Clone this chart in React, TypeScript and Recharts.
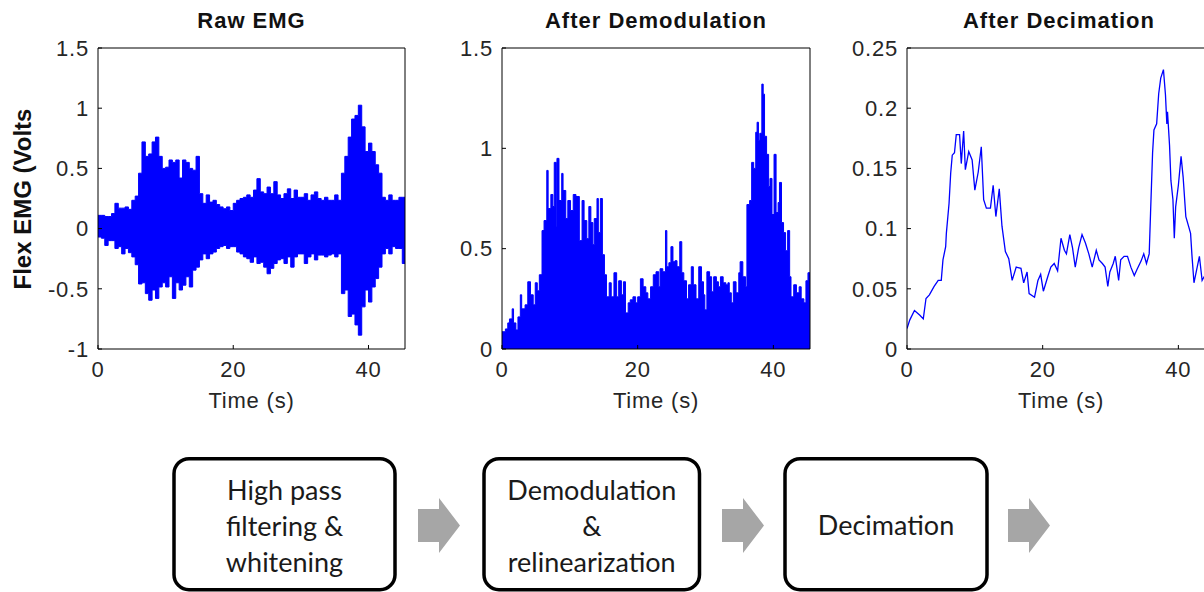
import React from "react";
import { ComposedChart, Area, Line, XAxis, YAxis } from "recharts";

// time axis (seconds) shared by the three panels
const timeTicks = [0, 20, 40];
const X_MAX = 45.4;

// Raw EMG: envelope of the signal, sampled every 0.5 s
const rawTime = [
  0, 0.5, 1, 1.5, 2, 2.5, 3, 3.5, 4, 4.5,
  5, 5.5, 6, 6.5, 7, 7.5, 8, 8.5, 9, 9.5,
  10, 10.5, 11, 11.5, 12, 12.5, 13, 13.5, 14, 14.5,
  15, 15.5, 16, 16.5, 17, 17.5, 18, 18.5, 19, 19.5,
  20, 20.5, 21, 21.5, 22, 22.5, 23, 23.5, 24, 24.5,
  25, 25.5, 26, 26.5, 27, 27.5, 28, 28.5, 29, 29.5,
  30, 30.5, 31, 31.5, 32, 32.5, 33, 33.5, 34, 34.5,
  35, 35.5, 36, 36.5, 37, 37.5, 38, 38.5, 39, 39.5,
  40, 40.5, 41, 41.5, 42, 42.5, 43, 43.5, 44, 44.5,
  45, 45.5,
];
const rawUpper = [
  0.11, 0.11, 0.1, 0.1, 0.125, 0.21, 0.17, 0.17, 0.18, 0.16,
  0.235, 0.27, 0.46, 0.72, 0.6, 0.62, 0.72, 0.76, 0.6, 0.5,
  0.51, 0.57, 0.55, 0.57, 0.42, 0.57, 0.55, 0.5, 0.485, 0.6,
  0.29, 0.21, 0.28, 0.22, 0.235, 0.2, 0.18, 0.165, 0.18, 0.15,
  0.21, 0.235, 0.25, 0.26, 0.28, 0.26, 0.32, 0.415, 0.305, 0.29,
  0.345, 0.29, 0.39, 0.28, 0.25, 0.29, 0.33, 0.25, 0.32, 0.26,
  0.26, 0.29, 0.235, 0.28, 0.305, 0.25, 0.235, 0.26, 0.235, 0.235,
  0.28, 0.235, 0.46, 0.6, 0.76, 0.91, 0.94, 1.025, 0.845, 0.64,
  0.71, 0.64, 0.53, 0.46, 0.26, 0.235, 0.28, 0.235, 0.235, 0.26,
  0.26, 0.26,
];
const rawLower = [
  -0.07, -0.08, -0.14, -0.1, -0.1, -0.165, -0.15, -0.21, -0.165, -0.2,
  -0.235, -0.3, -0.46, -0.45, -0.54, -0.595, -0.51, -0.58, -0.485, -0.45,
  -0.485, -0.4, -0.58, -0.45, -0.51, -0.47, -0.4, -0.485, -0.345, -0.32,
  -0.26, -0.21, -0.25, -0.21, -0.195, -0.165, -0.15, -0.14, -0.165, -0.15,
  -0.15, -0.195, -0.21, -0.235, -0.25, -0.28, -0.235, -0.29, -0.28, -0.32,
  -0.375, -0.33, -0.29, -0.26, -0.25, -0.29, -0.235, -0.32, -0.235, -0.21,
  -0.21, -0.29, -0.235, -0.21, -0.26, -0.22, -0.22, -0.235, -0.22, -0.21,
  -0.235, -0.21, -0.54, -0.51, -0.73, -0.71, -0.8, -0.885, -0.65, -0.51,
  -0.61, -0.485, -0.415, -0.32, -0.21, -0.165, -0.21, -0.15, -0.165, -0.165,
  -0.29, -0.29,
];
const rawTicks = [-1, -0.5, 0, 0.5, 1, 1.5];

// After demodulation: bar heights
const demodTime = [
  0, 0.5, 0.85, 1.1, 1.5, 1.7, 2.05, 2.35, 2.7, 2.9,
  3.4, 3.8, 4.2, 4.6, 4.9, 5.2, 5.5, 5.9, 6.2, 6.6,
  6.8, 7.2, 7.5, 7.7, 8.0, 8.1, 8.4, 8.8, 9.0, 9.4,
  9.7, 10.1, 10.5, 10.9, 11.4, 11.8, 12.1, 12.5, 12.8, 13.1,
  13.4, 13.6, 14.0, 14.2, 14.5, 14.8, 15.1, 15.4, 15.8, 16.1,
  16.5, 16.9, 17.2, 17.6, 17.9, 18.2, 18.6, 18.9, 19.3, 19.7,
  20.0, 20.4, 20.8, 21.2, 21.5, 21.9, 22.3, 22.7, 23.1, 23.3,
  23.7, 24.1, 24.3, 24.6, 24.9, 25.2, 25.5, 25.8, 26.2, 26.5,
  26.8, 27.2, 27.5, 27.9, 28.2, 28.6, 29.0, 29.4, 29.7, 29.9,
  30.2, 30.6, 30.9, 31.2, 31.6, 31.9, 32.2, 32.6, 33.0, 33.3,
  33.5, 33.8, 34.1, 34.5, 34.9, 35.1, 35.5, 35.9, 36.1, 36.5,
  36.8, 37.1, 37.4, 37.6, 37.8, 38.0, 38.3, 38.5, 38.7, 39.0,
  39.3, 39.5, 39.8, 40.1, 40.4, 40.7, 40.9, 41.2, 41.5, 41.8,
  42.1, 42.4, 42.6, 43.0, 43.4, 43.8, 44.1, 44.5, 44.8, 45.1,
  45.5,
];
const demodValue = [
  0.086, 0.1, 0.13, 0.15, 0.2, 0.13, 0.095, 0.16, 0.27, 0.2,
  0.22, 0.335, 0.27, 0.22, 0.33, 0.29, 0.37, 0.59, 0.64, 0.89,
  0.7, 0.77, 0.71, 0.93, 0.61, 0.95, 0.74, 0.875, 0.79, 0.65,
  0.74, 0.69, 0.77, 0.76, 0.54, 0.74, 0.64, 0.55, 0.71, 0.63,
  0.52, 0.65, 0.75, 0.58, 0.75, 0.47, 0.37, 0.26, 0.33, 0.26,
  0.38, 0.26, 0.34, 0.27, 0.335, 0.18, 0.23, 0.245, 0.26, 0.23,
  0.26, 0.35, 0.31, 0.28, 0.25, 0.31, 0.37, 0.385, 0.31, 0.4,
  0.385, 0.59, 0.41, 0.43, 0.51, 0.435, 0.44, 0.41, 0.535, 0.38,
  0.34, 0.25, 0.32, 0.41, 0.32, 0.25, 0.41, 0.335, 0.27, 0.195,
  0.385, 0.36, 0.285, 0.36, 0.335, 0.31, 0.36, 0.33, 0.32, 0.33,
  0.28, 0.23, 0.335, 0.28, 0.38, 0.435, 0.36, 0.31, 0.72, 0.74,
  0.93, 0.9, 1.08, 1.13, 1.04, 1.075, 1.32, 1.27, 1.06, 0.97,
  0.81, 0.85, 0.67, 0.97, 0.68, 0.73, 0.83, 0.63, 0.58, 0.49,
  0.59, 0.36, 0.26, 0.32, 0.28, 0.31, 0.25, 0.23, 0.34, 0.38,
  0.38,
];
const demodTicks = [0, 0.5, 1, 1.5];

// After decimation
const decimTime = [
  0, 0.4, 1.1, 1.9, 2.4, 2.8, 3.3, 4.0, 4.6, 5.05,
  5.3, 5.7, 5.8, 6.2, 6.44, 6.67, 7.0, 7.26, 7.75, 8.0,
  8.35, 8.6, 9.1, 9.6, 10.0, 10.5, 10.95, 11.3, 11.7, 12.3,
  12.7, 13.1, 13.6, 14.0, 14.5, 15.0, 15.5, 16.1, 16.8, 17.2,
  17.7, 18.0, 18.8, 19.3, 19.7, 20.1, 20.8, 21.2, 21.7, 22.2,
  22.7, 23.2, 23.5, 24.0, 24.4, 24.8, 25.3, 25.8, 26.3, 26.8,
  27.3, 27.9, 28.3, 28.8, 29.2, 29.6, 29.9, 30.4, 30.7, 31.2,
  31.5, 32.0, 32.5, 33.0, 33.5, 33.9, 34.5, 34.9, 35.3, 35.7,
  35.9, 36.2, 36.4, 36.8, 37.1, 37.4, 37.8, 38.1, 38.3, 38.4,
  38.7, 38.9, 39.2, 39.4, 39.6, 40.0, 40.4, 40.7, 41.1, 41.5,
  41.8, 42.0, 42.3, 42.7, 43.1, 43.5, 44.0, 44.5, 45.3,
];
const decimValue = [
  0.017, 0.024, 0.032, 0.028, 0.025, 0.042, 0.045, 0.052, 0.057, 0.057,
  0.074, 0.085, 0.096, 0.121, 0.146, 0.161, 0.163, 0.178, 0.178, 0.154,
  0.181, 0.149, 0.164, 0.157, 0.132, 0.147, 0.168, 0.124, 0.117, 0.117,
  0.136, 0.11, 0.133, 0.102, 0.081, 0.075, 0.057, 0.068, 0.067, 0.055,
  0.064, 0.046, 0.043, 0.057, 0.062, 0.048, 0.061, 0.068, 0.071, 0.065,
  0.092, 0.082, 0.079, 0.095, 0.084, 0.068, 0.084, 0.095, 0.088, 0.079,
  0.068, 0.082, 0.074, 0.071, 0.068, 0.052, 0.064, 0.071, 0.077, 0.057,
  0.074, 0.077, 0.077, 0.068, 0.061, 0.066, 0.073, 0.079, 0.071, 0.079,
  0.113, 0.163, 0.182, 0.187, 0.212, 0.225, 0.232, 0.211, 0.187, 0.197,
  0.169, 0.14, 0.124, 0.092, 0.118, 0.136, 0.16, 0.143, 0.11, 0.102,
  0.096, 0.078, 0.055, 0.066, 0.077, 0.057, 0.062, 0.06, 0.058,
];
const decimTicks = [0, 0.05, 0.1, 0.15, 0.2, 0.25];

// processing steps below the plots
const stepLines = [
  ["High pass", "filtering &", "whitening"],
  ["Demodulation", "&", "relinearization"],
  ["Decimation"],
];

const SANS = "'Liberation Sans', Arial, Helvetica, sans-serif";
const BLUE = "#0000ff";
const tickText = { fill: "#262626", fontSize: 22, fontFamily: SANS, letterSpacing: 0.8 };

const rawData = rawTime.map((t, i) => ({ t, band: [rawLower[i], rawUpper[i]] }));
const demodData = demodTime.map((t, i) => ({ t, v: demodValue[i] }));
const decimData = decimTime.map((t, i) => ({ t, v: decimValue[i] }));

type PanelProps = {
  plotLeft: number;
  plotWidth: number;
  data: Record<string, unknown>[];
  yDomain: [number, number];
  yTicks: number[];
  children: React.ReactNode;
};

function Panel({ plotLeft, plotWidth, data, yDomain, yTicks, children }: PanelProps) {
  return (
    <div style={{ position: "absolute", left: plotLeft - 98, top: 0 }}>
      <ComposedChart
        width={98 + plotWidth + 20}
        height={420}
        data={data}
        margin={{ top: 47, left: 38, right: 19, bottom: 41 }}
      >
        <XAxis
          dataKey="t"
          type="number"
          domain={[0, X_MAX]}
          allowDataOverflow
          ticks={timeTicks}
          interval={0}
          height={30}
          stroke="#000"
          tickSize={-4}
          tickMargin={16}
          tick={tickText}
          label={{
            value: "Time (s)",
            position: "bottom",
            offset: 13,
            fill: "#262626",
            fontSize: 22,
            fontFamily: SANS,
            letterSpacing: 0.8,
          }}
        />
        <XAxis
          xAxisId="top"
          orientation="top"
          dataKey="t"
          type="number"
          domain={[0, X_MAX]}
          allowDataOverflow
          ticks={timeTicks}
          interval={0}
          height={1}
          stroke="#000"
          tickSize={-4}
          tick={false}
        />
        <YAxis
          type="number"
          domain={yDomain}
          allowDataOverflow
          ticks={yTicks}
          interval={0}
          width={60}
          stroke="#000"
          tickSize={-4}
          tickMargin={13}
          tick={tickText}
        />
        <YAxis
          yAxisId="right"
          orientation="right"
          type="number"
          domain={yDomain}
          allowDataOverflow
          ticks={yTicks}
          interval={0}
          width={1}
          stroke="#000"
          tickSize={-4}
          tick={false}
        />
        {children}
      </ComposedChart>
    </div>
  );
}

function Arrow({ x }: { x: number }) {
  // block arrow: shaft from x to x+21, head to x+42
  const pts = [
    [x, 509], [x + 21, 509], [x + 21, 498], [x + 42, 525.5],
    [x + 21, 553], [x + 21, 542], [x, 542],
  ];
  return <polygon points={pts.map((p) => p.join(",")).join(" ")} fill="#a6a6a6" />;
}

const boxes = [
  { x: 174, w: 221 },
  { x: 484, w: 215.5 },
  { x: 785, w: 202 },
];

export default function App() {
  return (
    <div
      style={{
        position: "fixed",
        left: 0,
        top: 0,
        width: 1204,
        height: 592,
        overflow: "hidden",
        background: "#fff",
      }}
    >
      <Panel plotLeft={98} plotWidth={307} data={rawData} yDomain={[-1, 1.5]} yTicks={rawTicks}>
        <Area
          dataKey="band"
          type="stepAfter"
          stroke={BLUE}
          strokeWidth={1}
          fill={BLUE}
          fillOpacity={1}
          dot={false}
          activeDot={false}
          isAnimationActive={false}
        />
      </Panel>
      <Panel plotLeft={502} plotWidth={308} data={demodData} yDomain={[0, 1.5]} yTicks={demodTicks}>
        <Area
          dataKey="v"
          type="stepAfter"
          stroke={BLUE}
          strokeWidth={1}
          fill={BLUE}
          fillOpacity={1}
          dot={false}
          activeDot={false}
          isAnimationActive={false}
        />
      </Panel>
      <Panel plotLeft={907} plotWidth={308} data={decimData} yDomain={[0, 0.25]} yTicks={decimTicks}>
        <Line
          dataKey="v"
          type="linear"
          stroke={BLUE}
          strokeWidth={1.3}
          dot={false}
          activeDot={false}
          isAnimationActive={false}
        />
      </Panel>

      <svg
        width={1204}
        height={592}
        style={{ position: "absolute", left: 0, top: 0, pointerEvents: "none" }}
      >
        <g fontFamily={SANS} fontWeight={700} fontSize={22} fill="#111" textAnchor="middle" letterSpacing={1}>
          <text x={251.5} y={28}>Raw EMG</text>
          <text x={656} y={28}>After Demodulation</text>
          <text x={1059} y={28}>After Decimation</text>
          <text transform="translate(31,199) rotate(-90)" fontSize={24} letterSpacing={0}>
            Flex EMG (Volts
          </text>
        </g>

        {boxes.map((b, i) => (
          <rect
            key={i}
            x={b.x}
            y={458.7}
            width={b.w}
            height={131}
            rx={15}
            fill="#fff"
            stroke="#000"
            strokeWidth={3.5}
          />
        ))}
        <g fontFamily="Lato, 'Open Sans', sans-serif" fontSize={27} fill="#1a1a1a" textAnchor="middle">
          {stepLines.map((lines, i) => {
            const cx = boxes[i].x + boxes[i].w / 2;
            const first = lines.length === 1 ? 535 : 500;
            return lines.map((s, j) => (
              <text key={`${i}-${j}`} x={cx} y={first + j * 36}>
                {s}
              </text>
            ));
          })}
        </g>
        <Arrow x={418} />
        <Arrow x={722} />
        <Arrow x={1008} />
      </svg>
    </div>
  );
}
